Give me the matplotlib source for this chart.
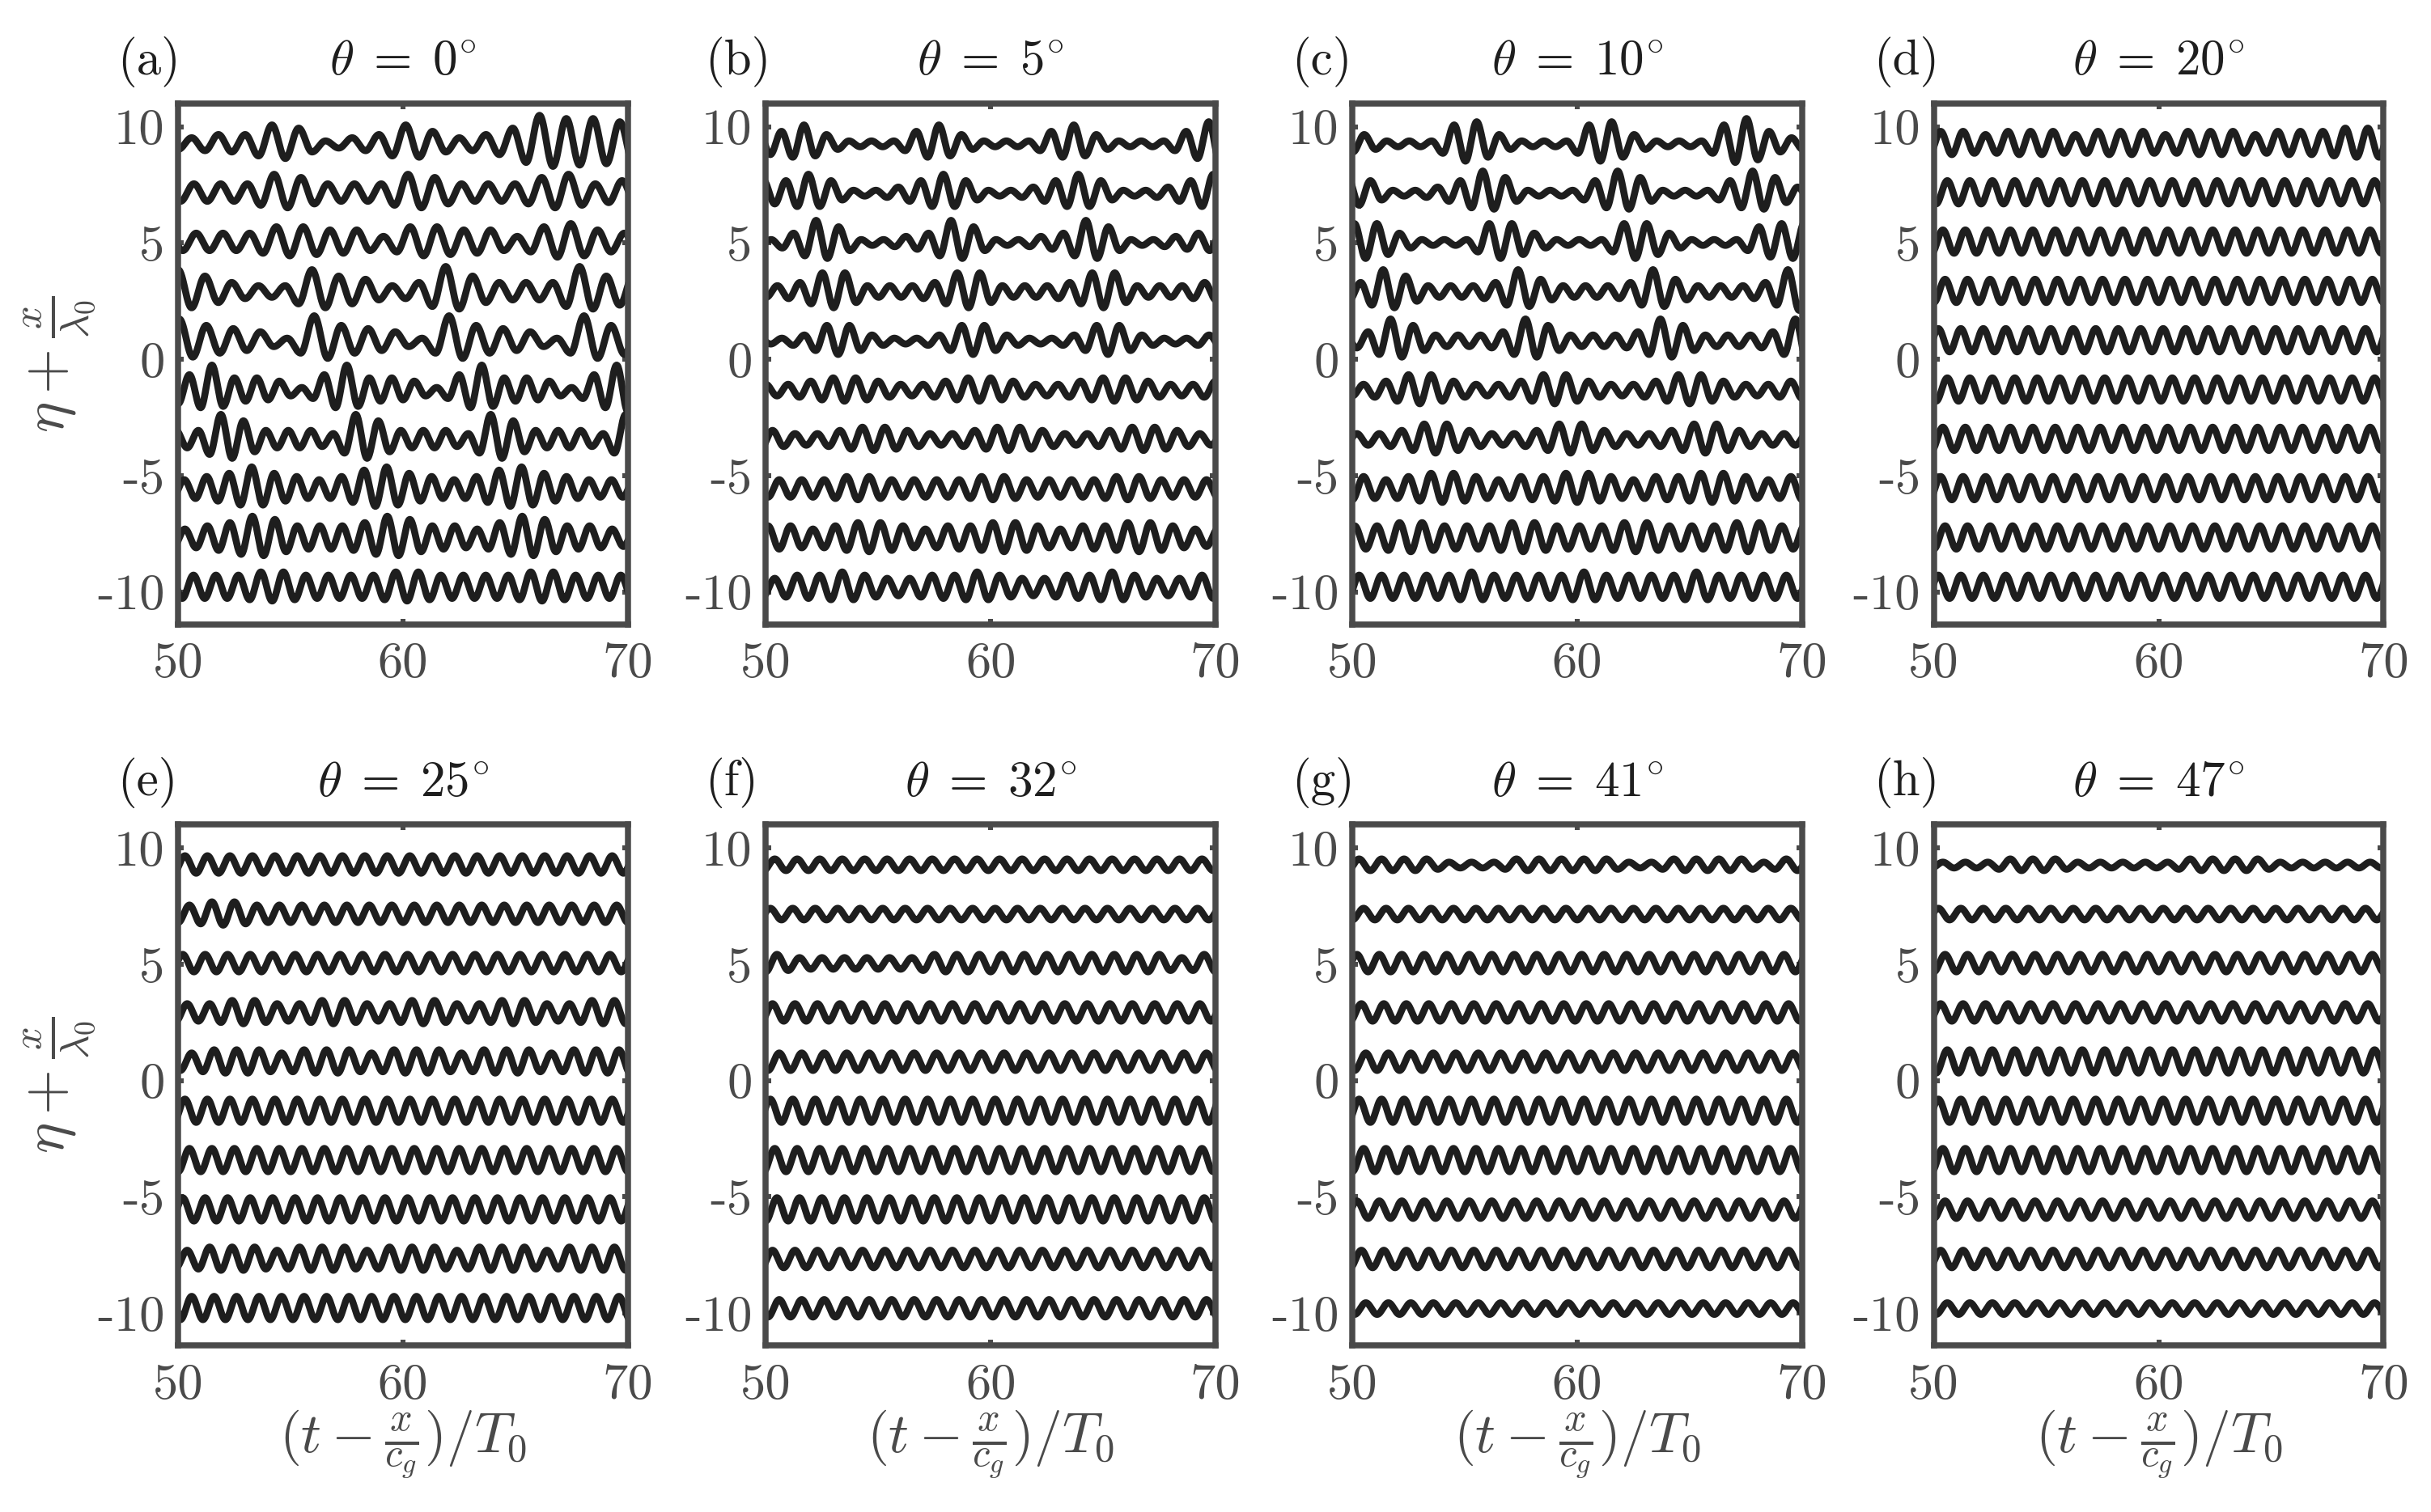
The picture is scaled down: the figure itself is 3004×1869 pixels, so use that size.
import numpy as np
import matplotlib.pyplot as plt

plt.rcParams['font.family'] = 'serif'
plt.rcParams['font.serif'] = ['cmr10']
plt.rcParams['mathtext.fontset'] = 'cm'
plt.rcParams['axes.unicode_minus'] = False

# panel labels and wave angles
thetas = [0, 5, 10, 20, 25, 32, 41, 47]
tags = ['(a)', '(b)', '(c)', '(d)', '(e)', '(f)', '(g)', '(h)']

# gauge offsets x/lambda0, top trace first
offsets = [9.25, 7.13, 5.01, 2.89, 0.77, -1.35, -3.47, -5.59, -7.71, -9.83]

# crest amplitudes read per wave: each digit is one wave, amplitude = digit * amp_unit
amp_unit = 0.125

# (a) theta = 0
starts_a = [50.6, 50.7, 50.8, 50.0, 50.05, 50.5, 50.9, 50.27, 50.3, 50.68]
periods_a = [1.19, 1.19, 1.19, 1.19, 1.2, 1.0, 1.0, 1.0, 1.0, 1.0]
crests_a = ["23365123642359887", "33365333653335634", "33355442554425643",
            "75322754238533385", "75431854318543185", "58443158443158443158",
            "38633328633328633328", "34575434675434675433", "34576444576443576443",
            "44455444455444455444"]

# (b) theta = 5
starts_b = [50.7, 50.9, 50.24, 50.52, 50.72, 50.0, 50.3, 50.6, 50.1, 50.4]
periods_b = [1.0, 1.0, 1.0, 1.0, 1.0, 1.0, 1.0, 1.0, 1.0, 1.0]
crests_b = ["46311146311146311147", "46411246411246411246", "13751123751123751123",
            "23662223662223662223", "12552112552112552112", "223443223443223443223",
            "32234432234432234432", "33344333344333344333", "44345543445543445543",
            "34454334454334454334"]

# (c) theta = 10
starts_c = [50.53, 49.8, 50.09, 50.37, 49.7, 50.5, 50.2, 50.5, 50.1, 50.3]
periods_c = [1.0, 1.0, 1.0, 1.0, 1.0, 1.0, 1.0, 1.0, 1.0, 1.0]
crests_c = ["31116731116731116842", "541124751114751114752", "66311166311166311156",
            "37522237422237422237", "237522237522237522237", "23553223553223553223",
            "22355322355322355322", "43455434455434455434", "44554445544455444554",
            "44444544445444454444"]

# (d) theta = 20
starts_d = [50.3, 50.6, 50.4, 50.5, 50.2, 50.6, 50.4, 50.3, 50.5, 50.2]
periods_d = [1.0, 1.0, 1.0, 1.0, 1.0, 1.0, 1.0, 1.0, 1.0, 1.0]
crests_d = ["44344434443444344455", "44444444444444444444", "44444444444444444444",
            "44444444444444444444", "44444444444444444444", "44444444444444444444",
            "44444444444444444444", "44444444444444444444", "44444444444444444444",
            "44444444444444444444"]

# (e) theta = 25
starts_e = [50.3, 50.5, 50.2, 50.4, 50.6, 50.3, 50.5, 50.2, 50.4, 50.6]
periods_e = [1.0, 1.0, 1.0, 1.0, 1.0, 1.0, 1.0, 1.0, 1.0, 1.0]
crests_e = ["33333333333333333333", "34433333333333333333", "33333333333333333333",
            "33443344334433443344", "34443444344434443444", "44444444444444444444",
            "44444444444444444444", "44444444444444444444", "34443444344434443444",
            "44444444444444444444"]

# (f) theta = 32
starts_f = [50.4, 50.2, 50.5, 50.3, 50.6, 50.2, 50.4, 50.5, 50.3, 50.6]
periods_f = [1.0, 1.0, 1.0, 1.0, 1.0, 1.0, 1.0, 1.0, 1.0, 1.0]
crests_f = ["22222222222222222222", "22222222222222222222", "32222223333333333323",
            "33333333333333333333", "33333333333333333333", "44444444444444444444",
            "44444444444444444444", "44444444444444444444", "33333333333333333333",
            "33333333333333333333"]

# (g) theta = 41
starts_g = [50.3, 50.5, 50.2, 50.4, 50.6, 50.3, 50.5, 50.2, 50.4, 50.6]
periods_g = [1.0, 1.0, 1.0, 1.0, 1.0, 1.0, 1.0, 1.0, 1.0, 1.0]
crests_g = ["22221112222211222212", "22222222222222222222", "33333333333333333333",
            "33333333333333333333", "33333333333333333333", "44444444444444444444",
            "44444444444444444444", "33333333333333333333", "33333333333333333333",
            "22222222222222222222"]

# (h) theta = 47
starts_h = [50.4, 50.2, 50.5, 50.3, 50.6, 50.2, 50.4, 50.5, 50.3, 50.6]
periods_h = [1.0, 1.0, 1.0, 1.0, 1.0, 1.0, 1.0, 1.0, 1.0, 1.0]
crests_h = ["11122211111222211111", "22222222222222222222", "33333333333333333333",
            "33333333333333333333", "44444444444444444444", "44444444444444444444",
            "44444444444444444444", "33333333333333333333", "33333333333333333333",
            "22222222222222222222"]

panels = [(starts_a, periods_a, crests_a), (starts_b, periods_b, crests_b),
          (starts_c, periods_c, crests_c), (starts_d, periods_d, crests_d),
          (starts_e, periods_e, crests_e), (starts_f, periods_f, crests_f),
          (starts_g, periods_g, crests_g), (starts_h, periods_h, crests_h)]


def wave_trace(start, period, crests):
    # crest/trough extremes joined by half-cosine arcs
    amps = [int(c) * amp_unit for c in crests]
    while start - period / 2 > 50:
        start -= period
        amps.insert(0, amps[0])
    while start + period * (len(amps) - 1) + period / 2 < 70:
        amps.append(amps[-1])
    ext_t, ext_y = [], []
    for i, a in enumerate(amps):
        tc = start + i * period
        prev = amps[i - 1] if i > 0 else a
        ext_t += [tc - period / 2, tc]
        ext_y += [-0.9 * (a + prev) / 2, 1.1 * a]
    ext_t.append(tc + period / 2)
    ext_y.append(-0.9 * amps[-1])
    s = np.linspace(0, 1, 30)
    w = (1 - np.cos(np.pi * s)) / 2
    t_all, y_all = [], []
    for k in range(len(ext_t) - 1):
        t_all.append(ext_t[k] + (ext_t[k + 1] - ext_t[k]) * s)
        y_all.append(ext_y[k] + (ext_y[k + 1] - ext_y[k]) * w)
    return np.concatenate(t_all), np.concatenate(y_all)


frame_col = '#4a4a4a'
line_col = '#1e1e1e'
text_col = '#1e1e1e'

fig = plt.figure(figsize=(15.02, 9.345), dpi=200)
col_left = [0.0733, 0.3150, 0.5563, 0.7955]
row_bottom = [0.587, 0.110]
ax_w, ax_h = 0.185, 0.3446

for p in range(8):
    r, c = divmod(p, 4)
    ax = fig.add_axes([col_left[c], row_bottom[r], ax_w, ax_h])
    starts, periods, crests = panels[p]
    for k in range(10):
        t, eta = wave_trace(starts[k], periods[k], crests[k])
        ax.plot(t, eta + offsets[k], color=line_col, lw=3.1, solid_joinstyle='round')
    ax.set_xlim(50, 70)
    ax.set_ylim(-11.4, 11)
    ax.set_xticks([50, 60, 70])
    ax.set_xticklabels(['50', '60', '70'])
    ax.set_yticks([-10, -5, 0, 5, 10])
    ax.set_yticklabels(['-10', '-5', '0', '5', '10'])
    ax.tick_params(direction='in', length=2.5, width=2.2, colors=frame_col,
                   labelsize=22.5, top=True, right=True, pad=6)
    ax.tick_params(axis='x', pad=8)
    for sp in ax.spines.values():
        sp.set_color(frame_col)
        sp.set_linewidth(2.7)
    ax.text(0.5, 1.08, r'$\theta \;=\; %d^{\circ}$' % thetas[p], transform=ax.transAxes,
            ha='center', va='center', fontsize=22, color=text_col)
    ax.text(-0.135, 1.08, tags[p], transform=ax.transAxes, ha='left', va='center',
            fontsize=22, color=text_col)
    if c == 0:
        ax.set_ylabel(r'$\eta+\frac{x}{\lambda_0}$', fontsize=26, color=frame_col, labelpad=0)
    if r == 1:
        ax.set_xlabel(r'$(t-\frac{x}{c_g})/T_0$', fontsize=25, color=frame_col, labelpad=0)

fig.savefig('out.png', dpi=200)
